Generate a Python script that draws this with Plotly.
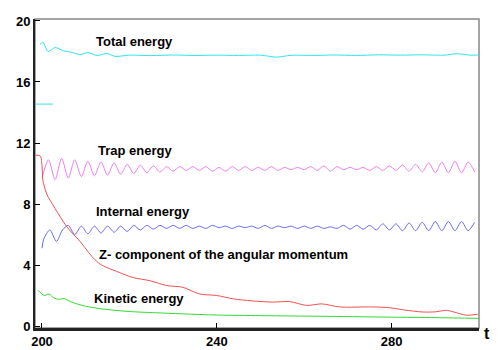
import plotly.graph_objects as go

# time axis ticks
x_ticks = [200, 240, 280]
y_ticks = [0, 4, 8, 12, 16, 20]

# Total energy (cyan)
t_total = [199.5, 200.2, 201.4, 203.0, 204.8, 206.9, 208.7, 210.5, 212.6, 214.9, 216.7,
           220, 225, 230, 235, 240, 245, 250, 253.7, 257, 262, 267, 272, 277, 282, 287, 292, 295, 298, 300]
e_total = [18.45, 18.6, 18.0, 18.26, 18.06, 17.94, 17.8, 17.93, 17.74, 17.87, 17.68,
           17.76, 17.73, 17.77, 17.74, 17.76, 17.74, 17.76, 17.63, 17.75, 17.74, 17.77, 17.74, 17.78, 17.76, 17.78, 17.76, 17.85, 17.76, 17.77]

# short cyan segment near t=200
t_initial = [198.4, 202.5]
e_initial = [14.55, 14.55]

# Trap energy (magenta)
t_trap = [200, 201.5, 203, 204.5, 206, 207.5, 209, 210.5, 212, 213.5, 215, 216.5, 218, 219.5,
          221, 222.5, 224, 225.5, 227, 228.5, 230, 231.5, 233, 234.5, 236, 237.5, 239, 240.5,
          242, 243.5, 245, 246.5, 248, 249.5, 251, 252.5, 254, 255.5, 257, 258.5, 260, 261.5,
          263, 264.5, 266, 267.5, 269, 270.5, 272, 273.5, 275, 276.5, 278, 279.5, 281, 282.5,
          284, 285.5, 287, 288.5, 290, 291.5, 293, 294.5, 296, 297.5, 299]
e_trap = [9.7, 10.9, 9.6, 11.0, 9.7, 10.9, 9.8, 10.8, 9.85, 10.75, 9.9, 10.7, 9.95, 10.6,
          10.0, 10.55, 10.05, 10.5, 10.1, 10.45, 10.15, 10.45, 10.2, 10.45, 10.2, 10.45, 10.15, 10.4,
          10.15, 10.45, 10.2, 10.45, 10.2, 10.4, 10.2, 10.45, 10.2, 10.4, 10.25, 10.4, 10.25, 10.45,
          10.2, 10.5, 10.15, 10.45, 10.25, 10.4, 10.25, 10.4, 10.2, 10.45, 10.2, 10.5, 10.2, 10.55,
          10.15, 10.6, 10.1, 10.7, 10.05, 10.75, 10.05, 10.8, 10.05, 10.75, 10.1]

# Internal energy (blue)
t_internal = [200, 200.4, 201.8, 203.3, 204.7, 206, 207.5, 209, 210.5, 212, 213.5, 215, 216.5, 218,
              219.5, 221, 222.5, 224, 225.5, 227, 228.5, 230, 231.5, 233, 234.5, 236, 237.5, 239,
              240.5, 242, 243.5, 245, 246.5, 248, 249.5, 251, 252.5, 254, 255.5, 257, 258.5, 260,
              261.5, 263, 264.5, 266, 267.5, 269, 270.5, 272, 273.5, 275, 276.5, 278, 279.5, 281,
              282.5, 284, 285.5, 287, 288.5, 290, 291.5, 293, 294.5, 296, 297.5, 299]
e_internal = [5.1, 5.7, 6.3, 5.55, 6.3, 6.6, 6.0, 6.55, 6.05, 6.55, 6.1, 6.55, 6.15, 6.55,
              6.2, 6.6, 6.3, 6.6, 6.35, 6.6, 6.4, 6.6, 6.4, 6.6, 6.4, 6.55, 6.4, 6.6,
              6.45, 6.55, 6.4, 6.55, 6.45, 6.55, 6.4, 6.6, 6.4, 6.55, 6.45, 6.55, 6.4, 6.55,
              6.4, 6.55, 6.4, 6.5, 6.4, 6.6, 6.35, 6.6, 6.35, 6.6, 6.3, 6.7, 6.3, 6.7,
              6.25, 6.75, 6.25, 6.8, 6.25, 6.85, 6.25, 6.85, 6.25, 6.85, 6.25, 6.8]

# Z-component of the angular momentum (red)
t_lz = [198.5, 199.6, 200.0, 200.2, 201.1, 203.0, 205.7, 208.7, 211.7, 213.3, 214.9, 217.8,
        220.8, 224.7, 228.6, 232.2, 236.1, 240.0, 243.8, 248, 252.8, 256.7, 260.6, 264, 268.1,
        275.7, 279.5, 283, 287.1, 290, 292.6, 294.5, 297.1, 299.7]
e_lz = [11.2, 11.15, 10.5, 9.55, 8.65, 7.7, 6.5, 5.55, 4.47, 4.06, 3.83, 3.5,
        3.18, 2.97, 2.65, 2.54, 2.1, 2.0, 1.78, 1.65, 1.57, 1.6, 1.35, 1.45, 1.25,
        1.25, 1.2, 1.05, 0.92, 0.93, 1.03, 0.9, 0.71, 0.77]

# Kinetic energy (green)
t_kin = [199.1, 200.5, 201.6, 202.7, 204, 205, 206.5, 208, 210, 213, 216, 220, 226, 232,
         240, 250, 260, 270, 280, 290, 300]
e_kin = [2.35, 2.0, 2.1, 1.85, 1.75, 1.8, 1.6, 1.45, 1.3, 1.15, 1.05, 0.95, 0.87, 0.8,
         0.72, 0.68, 0.65, 0.62, 0.58, 0.55, 0.5]

labels = ["Total energy", "Trap energy", "Internal energy",
          "Z- component of the angular momentum", "Kinetic energy"]
label_t = [211.8, 212.3, 211.8, 212.5, 211.4]
label_e = [18.65, 11.48, 7.48, 4.71, 1.81]

fig = go.Figure()
series = [
    (t_total, e_total, "#30e4ee"),
    (t_initial, e_initial, "#30e4ee"),
    (t_trap, e_trap, "#f07ef0"),
    (t_internal, e_internal, "#6a6af8"),
    (t_lz, e_lz, "#f25050"),
    (t_kin, e_kin, "#30dc30"),
]
for tx, ey, col in series:
    fig.add_trace(go.Scatter(x=tx, y=ey, mode="lines",
                             line=dict(color=col, width=1, shape="spline", smoothing=0.8),
                             showlegend=False, hoverinfo="skip"))

bold = dict(family="Liberation Sans", size=13, color="black", weight="bold")

for txt, tx, ey in zip(labels, label_t, label_e):
    fig.add_annotation(x=tx, y=ey, text=txt, showarrow=False, xanchor="left", yanchor="middle",
                       font=bold)

# axis name at the end of the x axis
fig.add_annotation(x=1.018, y=-0.018, xref="paper", yref="paper", text="t", showarrow=False,
                   xanchor="center", yanchor="middle",
                   font=dict(family="Liberation Sans", size=16, color="black", weight="bold"))

# grey frame on top and right
fig.add_shape(type="rect", xref="paper", yref="paper", x0=0, y0=0, x1=1, y1=1,
              line=dict(color="#888888", width=1.5), layer="below")

fig.update_xaxes(range=[198.4, 300], tickvals=x_ticks, ticks="inside", ticklen=5,
                 tickcolor="black", tickwidth=1, showgrid=False, zeroline=False,
                 showline=True, linecolor="#222222", linewidth=2.5, tickfont=bold)
fig.update_yaxes(range=[-0.13, 20.13], tickvals=y_ticks, ticks="inside", ticklen=5,
                 tickcolor="black", tickwidth=1, showgrid=False, zeroline=False,
                 showline=True, linecolor="#222222", linewidth=2, tickfont=bold)

fig.update_layout(width=498, height=350, margin=dict(l=27, r=27, t=6, b=30),
                  plot_bgcolor="white", paper_bgcolor="white", font=bold)

fig.write_html("out.html")
